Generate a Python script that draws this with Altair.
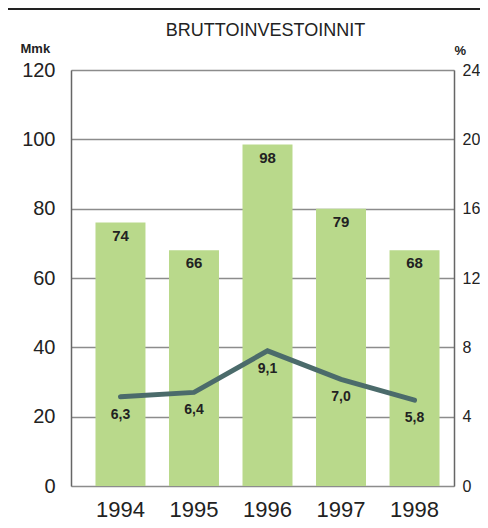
import altair as alt
import pandas as pd

years = ["1994", "1995", "1996", "1997", "1998"]
bar_heights = [76, 68, 98.5, 80, 68]          # drawn bar heights (Mmk)
bar_labels = ["74", "66", "98", "79", "68"]
line_values = [5.15, 5.4, 7.8, 6.15, 4.95]    # drawn line positions (%)
line_labels = ["6,3", "6,4", "9,1", "7,0", "5,8"]

df = pd.DataFrame({
    "year": years,
    "mmk": bar_heights,
    "mmk_label": bar_labels,
    "pct": line_values,
    "pct_label": line_labels,
})

FONT = "Liberation Sans"
W, H = 383, 416
SHIFT = 5

xscale = alt.Scale(domain=years, paddingInner=0.32, paddingOuter=0.265)
x = alt.X("year:N", scale=xscale, sort=years,
          axis=alt.Axis(title=None, labelAngle=0, labelFontSize=22, labelFont=FONT,
                        labelColor="#222", ticks=False, domain=False, labelPadding=13,
                        labelOffset=SHIFT))

yleft = alt.Scale(domain=[0, 120], nice=False)
yright = alt.Scale(domain=[0, 24], nice=False)

base = alt.Chart(df)

bars = base.mark_bar(color="#b9d98b", xOffset=SHIFT).encode(
    x=x,
    y=alt.Y("mmk:Q", scale=yleft,
            axis=alt.Axis(values=[0, 20, 40, 60, 80, 100, 120], title="Mmk",
                          titleAngle=0, titleX=-51, titleY=-22, titleAlign="left",
                          titleBaseline="middle", titleFont=FONT, titleFontSize=13,
                          titleFontWeight="bold", titleColor="#222",
                          labelFont=FONT, labelFontSize=20, labelColor="#222",
                          ticks=False, domain=True, domainColor="#666", domainWidth=1.5,
                          labelPadding=16,
                          grid=True, gridColor="#8c8c8c", gridWidth=1.5)),
)

bar_text = base.mark_text(font=FONT, fontSize=15, fontWeight="bold", color="#222",
                          baseline="middle", dy=13, xOffset=SHIFT).encode(
    x=alt.X("year:N", scale=xscale, sort=years),
    y=alt.Y("mmk:Q", scale=yleft),
    text="mmk_label:N",
)

left = alt.layer(bars, bar_text)

line = base.mark_line(color="#4b6b6b", strokeWidth=5, strokeCap="round",
                      strokeJoin="miter", xOffset=SHIFT).encode(
    x=alt.X("year:N", scale=xscale, sort=years),
    y=alt.Y("pct:Q", scale=yright,
            axis=alt.Axis(orient="right", values=[0, 4, 8, 12, 16, 20, 24], title="%",
                          titleAngle=0, titleX=0, titleY=-20, titleAlign="left",
                          titleBaseline="middle", titleFont=FONT, titleFontSize=13,
                          titleFontWeight="bold", titleColor="#222",
                          labelFont=FONT, labelFontSize=16, labelColor="#222",
                          ticks=False, domain=True, domainColor="#666", domainWidth=1.5,
                          labelPadding=8, grid=False)),
)

line_text = base.mark_text(font=FONT, fontSize=14, fontWeight="bold", color="#222",
                           baseline="middle", dy=18, xOffset=SHIFT).encode(
    x=alt.X("year:N", scale=xscale, sort=years),
    y=alt.Y("pct:Q", scale=yright),
    text="pct_label:N",
)

right = alt.layer(line, line_text)

frame_top = alt.Chart(df).mark_rule(color="#222", strokeWidth=2).encode(
    x=alt.value(-70), x2=alt.value(420), y=alt.value(-61)
)

chart = alt.layer(left, right, frame_top).resolve_scale(y="independent").properties(
    width=W, height=H,
    autosize=alt.AutoSizeParams(type="none"),
    padding={"left": 63, "top": 62, "right": 26, "bottom": 34},
    title=alt.TitleParams("BRUTTOINVESTOINNIT", font=FONT, fontSize=18,
                          fontWeight="normal", color="#222", anchor="middle",
                          frame="group", offset=3, dx=3, dy=35),
).configure_view(stroke="#444", strokeWidth=1.5).configure(background="white")

chart.save("out.html", embed_options={"renderer": "svg", "actions": False})
